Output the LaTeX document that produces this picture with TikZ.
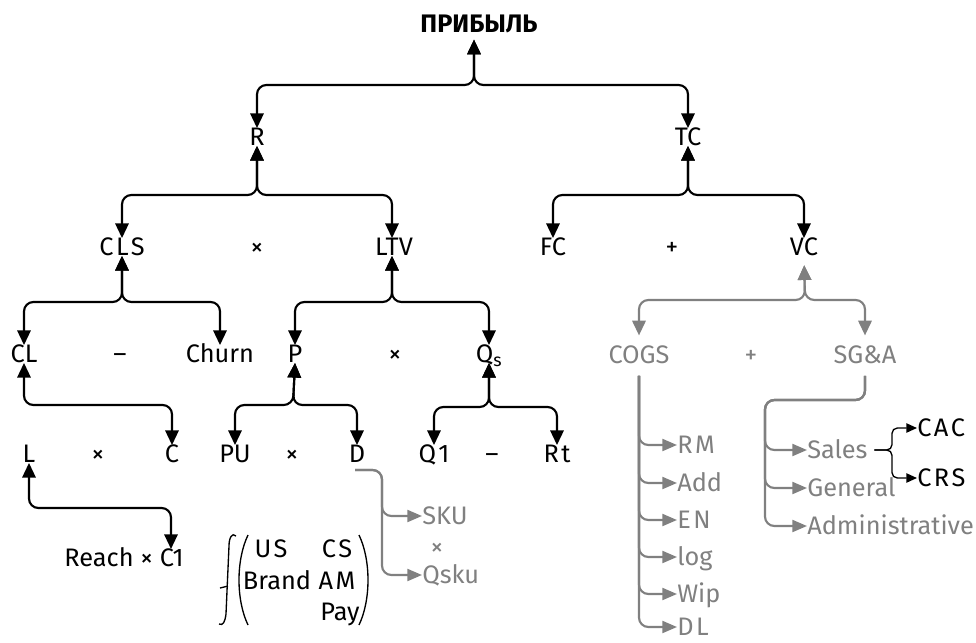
\documentclass[tikz,border=0pt]{standalone}
\usepackage{fontspec}
\setmainfont{Fira Sans}
\usetikzlibrary{arrows.meta}
\definecolor{costGray}{RGB}{128,128,128}

\begin{document}
\begin{tikzpicture}[x=0.75pt, y=-0.75pt,
    termStyle/.style={inner sep=0pt, text height=13pt, text depth=0pt, font=\fontsize{19}{21}\selectfont},
    wideStyle/.style={termStyle, font=\fontsize{19}{21}\selectfont\addfontfeature{LetterSpace=10}},
    subTermStyle/.style={termStyle, text=costGray},
    listStyle/.style={subTermStyle, anchor=west},
    wideListStyle/.style={wideStyle, text=costGray, anchor=west},
    treeArrowStyle/.style={<->, >={Triangle[length=11pt,width=10pt]}, line width=1.6pt, rounded corners=7pt},
    subArrowStyle/.style={treeArrowStyle, draw=costGray},
    subLineStyle/.style={->, >={Triangle[length=11pt,width=9pt]}, line width=1.6pt, rounded corners=7pt, draw=costGray},
    braceStyle/.style={->, >={Triangle[length=8pt,width=7pt]}, line width=1pt, rounded corners=4pt},
    glyphStyle/.style={line width=1pt}]
    \useasboundingbox (0,0) rectangle (976,643);

    % Profit tree nodes
    \node[termStyle, font=\fontsize{19}{21}\selectfont\bfseries] (profit) at (479,24) {ПРИБЫЛЬ};
    \node[termStyle] (rev) at (257,137) {R};
    \node[termStyle] (tc) at (688,137) {TC};
    \node[wideStyle] (cls) at (122,247) {CLS};
    \node[termStyle] (opRev) at (257,247) {×};
    \node[termStyle] (ltv) at (394,247) {LTV};
    \node[termStyle] (fc) at (553,247) {FC};
    \node[termStyle] (opTC) at (672,247) {+};
    \node[termStyle] (vc) at (804,247) {VC};
    \node[termStyle] (cl) at (24,354) {CL};
    \node[termStyle] (opCLS) at (120,354) {–};
    \node[termStyle] (churn) at (220,354) {Churn};
    \node[termStyle] (price) at (295,354) {P};
    \node[termStyle] (opLTV) at (395,354) {×};
    \node[termStyle] (qs) at (489,354) {Q\textsubscript{s}};
    \node[subTermStyle] (cogs) at (639,355) {COGS};
    \node[subTermStyle] (opVC) at (751,355) {+};
    \node[subTermStyle] (sga) at (865,355) {SG\&A};
    \node[termStyle] (lead) at (29,454) {L};
    \node[termStyle] (opCL) at (98,454) {×};
    \node[termStyle] (conv) at (172,454) {C};
    \node[termStyle] (pu) at (235,454) {PU};
    \node[termStyle] (opP) at (292,454) {×};
    \node[termStyle] (disc) at (357,454) {D};
    \node[wideStyle] (qOne) at (434,454) {Q1};
    \node[termStyle] (opQs) at (492,454) {–};
    \node[wideStyle] (rt) at (557,454) {Rt};
    \node[termStyle] (reach) at (124,558) {Reach × C1};
    \node[wideStyle] (us) at (271,549) {US};
    \node[wideStyle] (cs) at (337,549) {CS};
    \node[termStyle] (brand) at (277,581) {Brand};
    \node[wideStyle] (am) at (337,581) {AM};
    \node[termStyle] (pay) at (340,612) {Pay};
    \node[listStyle] (sku) at (422,516) {SKU};
    \node[subTermStyle] (opD) at (437,547) {×};
    \node[listStyle] (qsku) at (422,575) {Qsku};
    \node[wideListStyle] (rm) at (677,445) {RM};
    \node[listStyle] (add) at (677,483) {Add};
    \node[wideListStyle] (en) at (677,520) {EN};
    \node[listStyle] (logi) at (677,557) {log};
    \node[listStyle] (wip) at (677,594) {Wip};
    \node[wideListStyle] (dl) at (677,627) {DL};
    \node[listStyle] (sales) at (807,450) {Sales};
    \node[listStyle] (general) at (807,488) {General};
    \node[listStyle] (admin) at (807,526) {Administrative};
    \node[wideStyle, anchor=west] (cac) at (917,428) {CAC};
    \node[wideStyle, anchor=west] (crs) at (917,478) {CRS};

    \coordinate (jTop) at (474,85);
    \coordinate (jRev) at (257,195);
    \coordinate (jTC) at (688,195);
    \coordinate (jCLS) at (122,302);
    \coordinate (jLTV) at (392,302);
    \coordinate (jVC) at (805,300);
    \coordinate (jCL) at (172,405);
    \coordinate (jP) at (293,405);
    \coordinate (jQs) at (489,407);
    \coordinate (jReach) at (171,508);
    \coordinate (cOne) at (171,549);
    \coordinate (dOut) at (355,470);
    \coordinate (jD) at (382,470);
    \coordinate (jSGA) at (765,400);
    \coordinate (jSales) at (892,450);

    \draw[treeArrowStyle, shorten >=5pt] (rev.north) |- (jTop) -- (jTop |- profit.south);
    \draw[treeArrowStyle, shorten >=5pt] (tc.north) |- (jTop) -- (jTop |- profit.south);
    \draw[treeArrowStyle] (cls.north) |- (jRev) -- (rev.south);
    \draw[treeArrowStyle] (ltv.north -| jLTV) |- (jRev) -- (rev.south);
    \draw[treeArrowStyle] (fc.north) |- (jTC) -- (tc.south);
    \draw[treeArrowStyle] (vc.north) |- (jTC) -- (tc.south);
    \draw[treeArrowStyle] (cl.north) |- (jCLS) -- (cls.south);
    \draw[treeArrowStyle] (churn.north) |- (jCLS) -- (cls.south);
    \draw[treeArrowStyle] (price.north) |- (jLTV) -- (ltv.south -| jLTV);
    \draw[treeArrowStyle] (qs.north) |- (jLTV) -- (ltv.south -| jLTV);
    \draw[treeArrowStyle] (cl.south) |- (jCL) -- (conv.north);
    \draw[treeArrowStyle] (pu.north) |- (jP) -- (price.south);
    \draw[treeArrowStyle] (disc.north) |- (jP) -- (price.south);
    \draw[treeArrowStyle] (qOne.north) |- (jQs) -- (qs.south);
    \draw[treeArrowStyle] (rt.north) |- (jQs) -- (qs.south);
    \draw[treeArrowStyle] (lead.south) |- (jReach) -- (cOne);

    \draw[subArrowStyle, shorten <=8pt, shorten >=7pt] (cogs.north) |- (jVC) -- (vc.south);
    \draw[subArrowStyle, shorten <=8pt, shorten >=7pt] (sga.north) |- (jVC) -- (vc.south);
    \draw[subLineStyle, shorten <=9pt] (cogs.south) |- (rm.west);
    \draw[subLineStyle, shorten <=9pt] (cogs.south) |- (add.west);
    \draw[subLineStyle, shorten <=9pt] (cogs.south) |- (en.west);
    \draw[subLineStyle, shorten <=9pt] (cogs.south) |- (logi.west);
    \draw[subLineStyle, shorten <=9pt] (cogs.south) |- (wip.west);
    \draw[subLineStyle, shorten <=9pt] (cogs.south) |- (dl.west);
    \draw[subLineStyle, shorten <=9pt] (sga.south) |- (jSGA) |- (sales.west);
    \draw[subLineStyle, shorten <=9pt] (sga.south) |- (jSGA) |- (general.west);
    \draw[subLineStyle, shorten <=9pt] (sga.south) |- (jSGA) |- (admin.west);
    \draw[subLineStyle] (dOut) -- (jD) |- (sku.west);
    \draw[subLineStyle] (dOut) -- (jD) |- (qsku.west);
    \draw[braceStyle, shorten <=5pt] (sales.east) -- (jSales) |- (cac.west);
    \draw[braceStyle, shorten <=5pt] (sales.east) -- (jSales) |- (crs.west);

    \draw[glyphStyle] (236,536) .. controls (232,532) and (229,538) .. (229,546) -- (226,614) .. controls (225,622) and (223,626) .. (219,624);
    \draw[glyphStyle] (220,588) -- (228,586);
    \draw[glyphStyle] (248,535) .. controls (236,560) and (236,600) .. (248,625);
    \draw[glyphStyle] (359,535) .. controls (371,560) and (371,600) .. (359,625);
\end{tikzpicture}
\end{document}
